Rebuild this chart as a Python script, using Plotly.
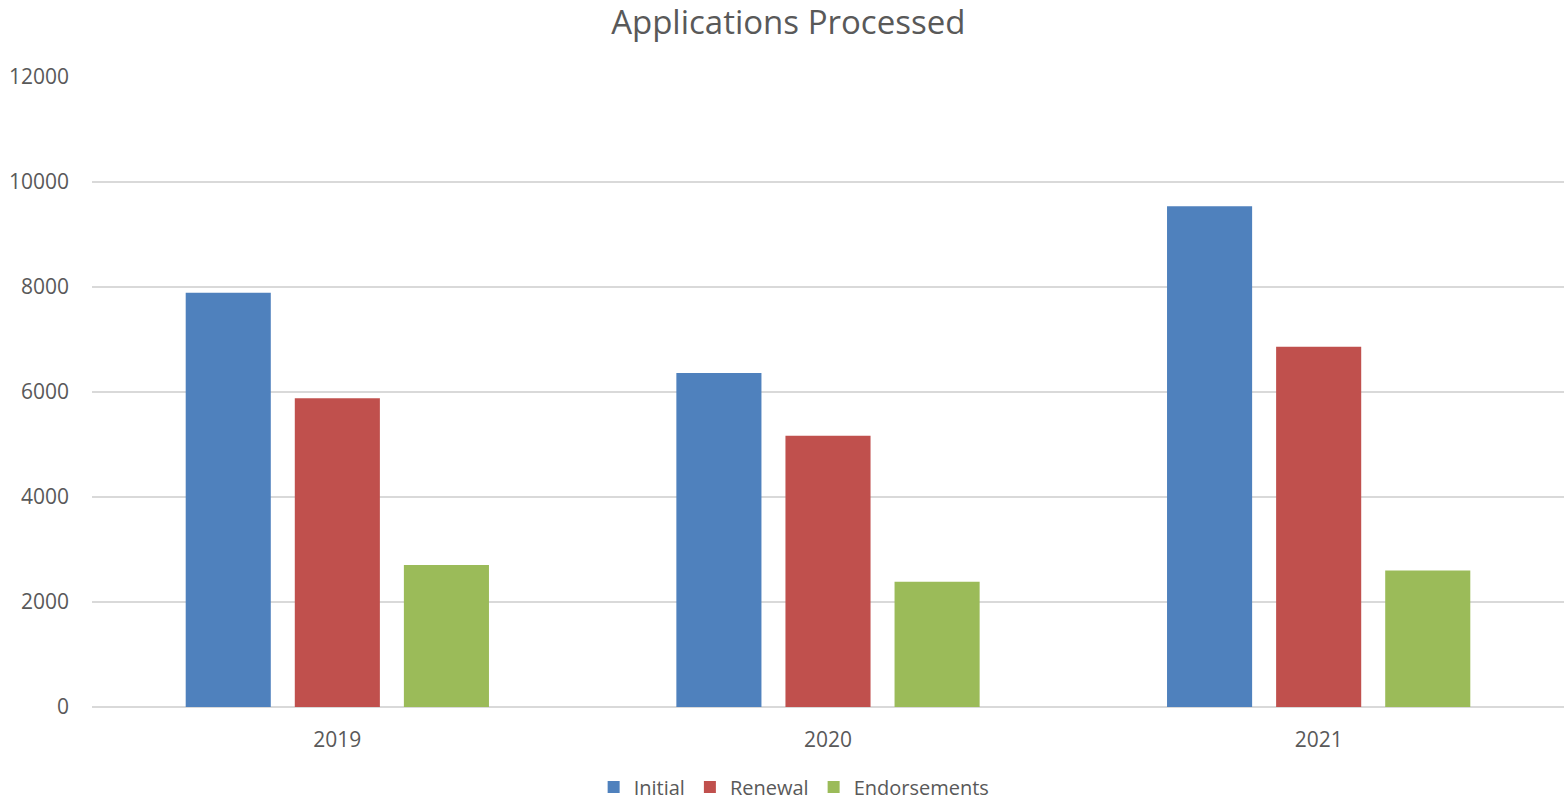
import plotly.graph_objects as go

years = ["2019", "2020", "2021"]
initial = [7890, 6360, 9540]
renewal = [5880, 5165, 6860]
endorsements = [2705, 2385, 2600]

series = [("Initial", initial, "#4F81BD"),
          ("Renewal", renewal, "#C0504D"),
          ("Endorsements", endorsements, "#9BBB59")]

fig = go.Figure()
for name, vals, col in series:
    fig.add_trace(go.Bar(x=years, y=vals, name=name, marker=dict(color=col, line=dict(width=0))))

font_family = "Open Sans"
fig.update_layout(
    width=1564, height=803,
    margin=dict(l=92, r=0, t=77, b=96, autoexpand=False),
    paper_bgcolor="white", plot_bgcolor="white",
    barmode="group", bargap=0.333, bargroupgap=0.22,
    title=dict(text="Applications Processed", x=0.504, xanchor="center", y=0.972, yanchor="middle",
               font=dict(family=font_family, size=33, color="#595959")),
    font=dict(family=font_family, size=21, color="#595959"),
    legend=dict(orientation="h", x=0.477, xanchor="center", y=-0.127, yanchor="middle",
                font=dict(size=20, color="#595959"), traceorder="normal", itemwidth=30,
                tracegroupgap=0),
    yaxis=dict(range=[0, 12000], dtick=2000, tickformat="d", showgrid=True, gridcolor="#d9d9d9", gridwidth=1.6,
               zeroline=True, zerolinecolor="#d9d9d9", zerolinewidth=1.6, showline=False,
               ticks="", ticklabelstandoff=22, tickfont=dict(size=21, color="#595959")),
    xaxis=dict(showline=False, ticks="", tickfont=dict(size=21, color="#595959"), ticklabelstandoff=18),
)

fig.write_html("out.html")
